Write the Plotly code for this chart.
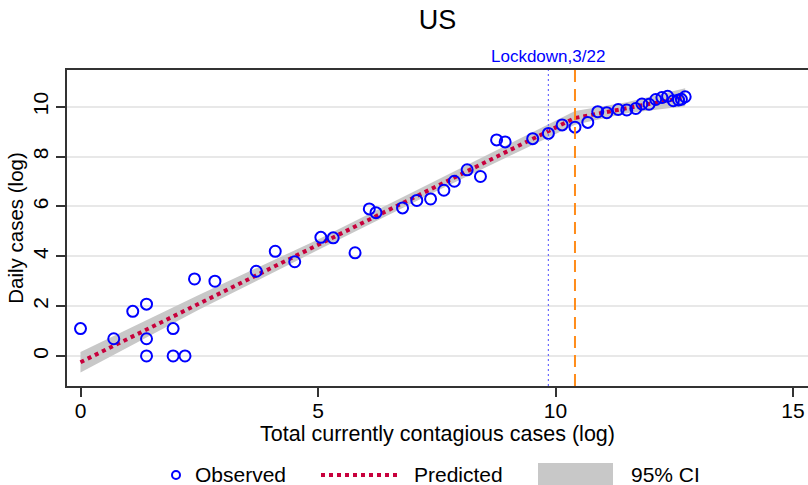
import plotly.graph_objects as go

# ---- data ----
obs_x = [0.00, 0.70, 1.10, 1.39, 1.39, 1.39, 1.95, 1.95, 2.20, 2.40, 2.83, 3.70, 4.10, 4.51,
         5.06, 5.32, 5.78, 6.08, 6.22, 6.78, 7.08, 7.37, 7.65, 7.87, 8.14, 8.42, 8.76, 8.94,
         9.52, 9.85, 10.14, 10.41, 10.68, 10.89, 11.08, 11.32, 11.50, 11.69, 11.82, 11.97,
         12.11, 12.24, 12.36, 12.48, 12.59, 12.65, 12.73]
obs_y = [1.10, 0.69, 1.79, 2.08, 0.69, 0.00, 1.10, 0.00, 0.00, 3.09, 3.00, 3.40, 4.20, 3.78,
         4.76, 4.74, 4.14, 5.90, 5.75, 5.94, 6.24, 6.30, 6.65, 7.01, 7.47, 7.20, 8.67, 8.59,
         8.72, 8.93, 9.27, 9.18, 9.37, 9.80, 9.76, 9.89, 9.87, 9.93, 10.11, 10.10,
         10.29, 10.37, 10.42, 10.24, 10.27, 10.30, 10.40]

pred_x = [0.00, 10.41, 12.73]
pred_y = [-0.25, 9.55, 10.38]

ci_x = [0.00, 2.50, 5.00, 7.50, 10.41, 11.50, 12.73]
ci_lo = [-0.66, 1.86, 4.25, 6.62, 9.28, 9.74, 10.02]
ci_hi = [0.16, 2.46, 4.67, 7.06, 9.83, 10.18, 10.74]

lockdown_x = 9.85
lag_x = 10.41
lockdown_label = "Lockdown,3/22"

x_ticks = [0, 5, 10, 15]
y_ticks = [0, 2, 4, 6, 8, 10]

title_text = "US"
x_title = "Total currently contagious cases (log)"
y_title = "Daily cases (log)"
legend_labels = ["Observed", "Predicted", "95% CI"]

# ---- styling ----
FONT = "Liberation Sans, Arial, sans-serif"
W, H = 808, 485
L, R, T, B = 67, 0, 70, 99
PW, PH = W - L - R, H - T - B

BLUE = "#0000ff"
RED = "#c8003c"
GREY = "#c8c8c8"
ORANGE = "#ff8c1a"


def px(xpix):
    return (xpix - L) / PW


def py(ypix):
    return (H - B - ypix) / PH


fig = go.Figure()

# CI band
fig.add_trace(go.Scatter(x=ci_x, y=ci_lo, mode="lines", line=dict(width=0, color=GREY),
                         showlegend=False, hoverinfo="skip"))
fig.add_trace(go.Scatter(x=ci_x, y=ci_hi, mode="lines", line=dict(width=0, color=GREY),
                         fill="tonexty", fillcolor=GREY, showlegend=False, hoverinfo="skip"))

# predicted
fig.add_trace(go.Scatter(x=pred_x, y=pred_y, mode="lines",
                         line=dict(color=RED, width=4, dash="4px,4px"), showlegend=False))

# observed
fig.add_trace(go.Scatter(x=obs_x, y=obs_y, mode="markers",
                         marker=dict(symbol="circle-open", size=11, color=BLUE,
                                     line=dict(width=2, color=BLUE)),
                         showlegend=False))

# vertical lines
fig.add_shape(type="line", xref="x", yref="paper", x0=lockdown_x, x1=lockdown_x, y0=0, y1=1,
              line=dict(color="#6a6aff", width=1.2, dash="2px,3px"))
fig.add_shape(type="line", xref="x", yref="paper", x0=lag_x, x1=lag_x, y0=0, y1=1,
              line=dict(color=ORANGE, width=2, dash="12px,7px"))

fig.add_annotation(x=lockdown_x, xref="x", y=py(56), yref="paper", text=lockdown_label,
                   showarrow=False, font=dict(family=FONT, size=17, color=BLUE),
                   xanchor="center", yanchor="middle")

# legend (drawn manually)
ly = py(474)
fig.add_shape(type="circle", xref="paper", yref="paper",
              x0=px(172), x1=px(180), y0=py(479), y1=py(471),
              line=dict(color=BLUE, width=2))
fig.add_shape(type="line", xref="paper", yref="paper", x0=px(321), x1=px(397),
              y0=py(475), y1=py(475),
              line=dict(color=RED, width=4, dash="4px,4px"))
fig.add_shape(type="rect", xref="paper", yref="paper", x0=px(538), x1=px(613),
              y0=py(487), y1=py(463), line=dict(width=0), fillcolor=GREY)
for lx, lab in zip([193, 412, 629], legend_labels):
    fig.add_annotation(x=px(lx), y=ly, xref="paper", yref="paper", text=lab,
                       showarrow=False, xanchor="left", yanchor="middle", height=22,
                       font=dict(family=FONT, size=21, color="black"))

AX = "#333333"
fig.update_layout(
    width=W, height=H,
    margin=dict(l=L, r=R, t=T, b=B, pad=0),
    paper_bgcolor="white", plot_bgcolor="white",
    font=dict(family=FONT, size=20, color="black"),
    title=dict(text=title_text, x=(L + PW / 2) / W, xanchor="center", y=1 - 20 / H,
               yanchor="middle", font=dict(family=FONT, size=27, color="black")),
    showlegend=False,
    xaxis=dict(range=[(L - 80.5) / 47.5, (W - 80.5) / 47.5], tickmode="array", tickvals=x_ticks,
               ticktext=[str(v) for v in x_ticks],
               showgrid=False, zeroline=False, showline=True, linecolor=AX, linewidth=1.5,
               mirror=True, ticks="outside", ticklen=9, tickwidth=1.5, tickcolor=AX,
               tickfont=dict(family=FONT, size=21), ticklabelstandoff=-4,
               title=dict(text=x_title, font=dict(family=FONT, size=21.5), standoff=0)),
    yaxis=dict(range=[-(385.7 - 355.7) / 24.9, (355.7 - 70) / 24.9], tickmode="array",
               tickvals=y_ticks, ticktext=[str(v) for v in y_ticks],
               showgrid=True, gridcolor="#e8e8e8", gridwidth=1.5, zeroline=False,
               showline=True, linecolor=AX, linewidth=1.5, mirror=False,
               ticks="outside", ticklen=9, tickwidth=1.5, tickcolor=AX, tickangle=-90,
               tickfont=dict(family=FONT, size=21),
               title=dict(text=y_title, font=dict(family=FONT, size=20.5), standoff=0)),
)

fig.write_html("out.html", config={"displayModeBar": False},
               post_script="document.body.style.margin='0';")
